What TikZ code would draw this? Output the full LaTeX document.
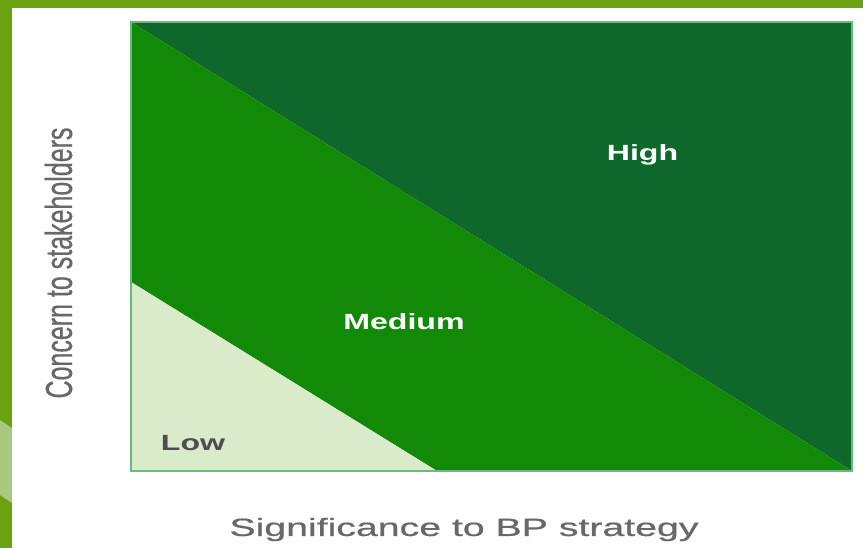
\documentclass[tikz,border=0pt]{standalone}
\usepackage{fontspec}
\setmainfont{Liberation Sans}
\newfontfamily\axisfont[FakeBold=0.6]{Liberation Sans}

\definecolor{slidegreen}{HTML}{6AA30F}
\definecolor{slidelight}{HTML}{A8C97C}
\definecolor{highgreen}{HTML}{0F682B}
\definecolor{medgreen}{HTML}{128A08}
\definecolor{lowgreen}{HTML}{D9EBC8}
\definecolor{rimgreen}{HTML}{6CBA78}
\definecolor{axisgray}{HTML}{686868}
\definecolor{lowgray}{HTML}{4E4E4E}

\tikzstyle{zone}=[draw=none]
\tikzstyle{rim}=[draw=rimgreen, line width=1.5pt]
\tikzstyle{lvl}=[font=\fontsize{22}{26}\selectfont\bfseries, inner sep=0pt]
\tikzstyle{axis}=[font=\fontsize{25}{29}\selectfont\axisfont, text=axisgray, inner sep=0pt]

\newcommand{\widetext}[1]{\scalebox{1.46}[1]{#1}}

\begin{document}
\begin{tikzpicture}[x=1pt, y=-1pt]
    \useasboundingbox (0,0) rectangle (863,548);
    % slide background
    \fill[slidegreen] (0,0) rectangle (863,548);
    \fill[slidelight] (0,420) -- (12,428) -- (12,503) -- (0,495) -- cycle;
    \fill[white] (12,8) rectangle (863,548);
    % matrix corners
    \coordinate (nw) at (131,22);
    \coordinate (ne) at (852,22);
    \coordinate (se) at (852,471);
    \coordinate (sw) at (131,471);
    \coordinate (lowtop) at (131,282);
    \coordinate (lowend) at (437,471);
    \fill[zone, highgreen] (nw) -- (ne) -- (se) -- cycle;
    \fill[zone, medgreen] (nw) -- (se) -- (lowend) -- (lowtop) -- cycle;
    \fill[zone, lowgreen] (lowtop) -- (lowend) -- (sw) -- cycle;
    \draw[rim] (nw) rectangle (se);
    % levels
    \node[lvl, text=white] (high) at (642.5,155) {\widetext{High}};
    \node[lvl, text=white] (medium) at (404,321.5) {\widetext{Medium}};
    \node[lvl, text=lowgray] (low) at (193,443.5) {\widetext{Low}};
    % axes
    \node[axis, rotate=90] (concern) at (58.5,263) {\scalebox{1}[1.5]{Concern to stakeholders}};
    \node[axis] (significance) at (464,529.5) {\scalebox{1.57}[1]{Significance to BP strategy}};
\end{tikzpicture}
\end{document}
